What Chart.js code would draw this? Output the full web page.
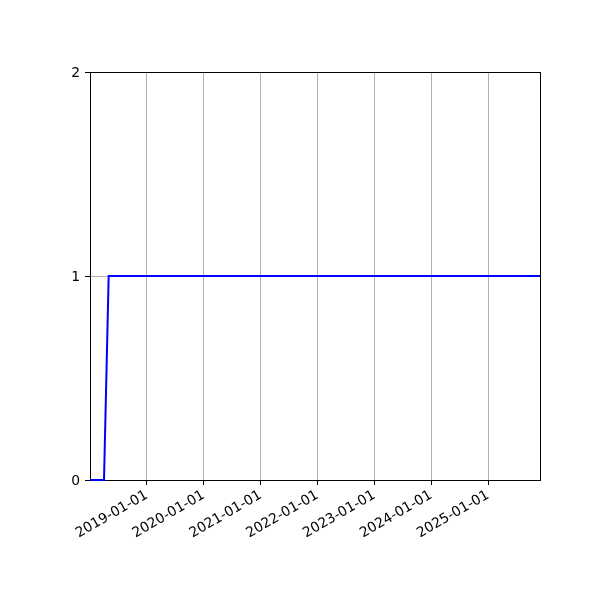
<!DOCTYPE html>
<html>
<head>
<meta charset="utf-8">
<script src="https://cdn.jsdelivr.net/npm/chart.js@4"></script>
<style>
  body { margin: 0; background: #fff; }
  #chart { display: block; }
</style>
</head>
<body>
<canvas id="chart" width="600" height="600"></canvas>
<script>
// monthly series, first point is January of startYear
const startYear = 2018;
const values = [
  0, 0, 0, 0, 1, 1, 1, 1, 1, 1, 1, 1, // 2018
  1, 1, 1, 1, 1, 1, 1, 1, 1, 1, 1, 1, // 2019
  1, 1, 1, 1, 1, 1, 1, 1, 1, 1, 1, 1, // 2020
  1, 1, 1, 1, 1, 1, 1, 1, 1, 1, 1, 1, // 2021
  1, 1, 1, 1, 1, 1, 1, 1, 1, 1, 1, 1, // 2022
  1, 1, 1, 1, 1, 1, 1, 1, 1, 1, 1, 1, // 2023
  1, 1, 1, 1, 1, 1, 1, 1, 1, 1, 1, 1, // 2024
  1, 1, 1, 1, 1, 1, 1, 1, 1, 1, 1, 1  // 2025
];
const xTickYears = [2019, 2020, 2021, 2022, 2023, 2024, 2025];
const yTicks = [0, 1, 2];

const FONT = { family: "'DejaVu Sans', sans-serif", size: 13.9 };

function pad2(n) { return n < 10 ? '0' + n : '' + n; }
function fmtDate(ms) {
  const d = new Date(ms);
  return d.getUTCFullYear() + '-' + pad2(d.getUTCMonth() + 1) + '-' + pad2(d.getUTCDate());
}

const points = values.map((v, i) => ({ x: Date.UTC(startYear, i, 1), y: v }));

// matplotlib style frame, drawn under the line
const spines = {
  id: 'spines',
  beforeDatasetsDraw(chart) {
    const a = chart.chartArea;
    const ctx = chart.ctx;
    ctx.save();
    ctx.strokeStyle = '#000';
    ctx.lineWidth = 1;
    ctx.strokeRect(Math.round(a.left) + 0.5, Math.round(a.top) + 0.5,
      Math.round(a.right - a.left), Math.round(a.bottom - a.top));
    ctx.restore();
  }
};

new Chart(document.getElementById('chart').getContext('2d'), {
  type: 'line',
  data: {
    datasets: [{
      data: points,
      borderColor: '#0000ff',
      borderWidth: 2,
      pointRadius: 0,
      tension: 0,
      fill: false,
      clip: 2
    }]
  },
  options: {
    responsive: false,
    animation: false,
    layout: { padding: { left: 0, top: 72, right: 60, bottom: 0 } },
    plugins: { legend: { display: false }, tooltip: { enabled: false } },
    scales: {
      x: {
        type: 'linear',
        min: points[0].x,
        max: points[points.length - 1].x,
        afterBuildTicks: axis => {
          axis.ticks = xTickYears.map(y => ({ value: Date.UTC(y, 0, 1) }));
        },
        afterFit: axis => { axis.height = 120; },
        grid: { color: '#b0b0b0', lineWidth: 1, tickColor: '#000', tickLength: 5 },
        border: { display: false },
        ticks: {
          color: '#000',
          font: FONT,
          padding: 2,
          minRotation: 30,
          maxRotation: 30,
          autoSkip: false,
          callback: v => fmtDate(v)
        }
      },
      y: {
        min: 0,
        max: 2,
        afterBuildTicks: axis => {
          axis.ticks = yTicks.map(v => ({ value: v }));
        },
        afterFit: axis => { axis.width = 90; },
        grid: { color: '#b0b0b0', lineWidth: 1, tickColor: '#000', tickLength: 5 },
        border: { display: false },
        ticks: { color: '#000', font: FONT, padding: 5, labelOffset: 1 }
      }
    }
  },
  plugins: [spines]
});
</script>
</body>
</html>
